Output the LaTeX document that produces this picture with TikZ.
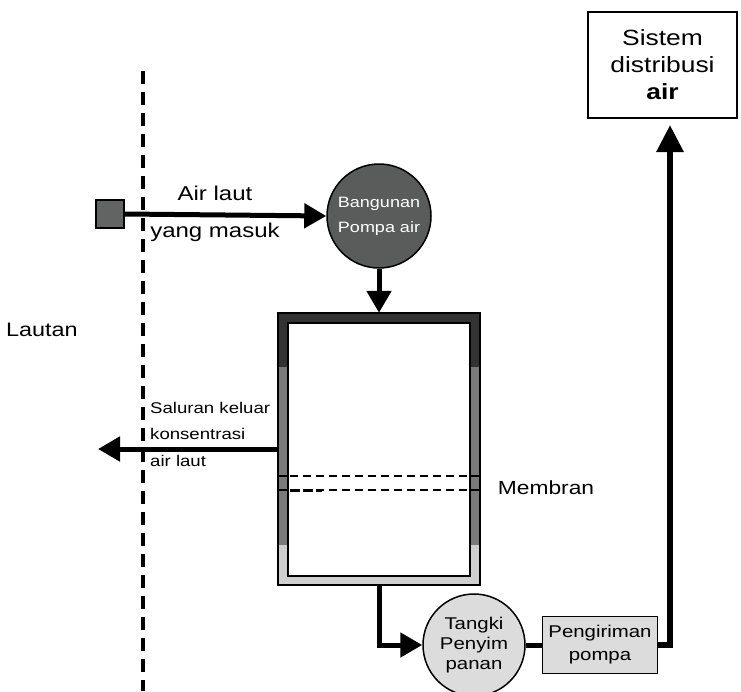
\documentclass[tikz,border=0pt]{standalone}
\usepackage{fontspec}
\setmainfont[FakeStretch=1.2]{Liberation Sans}
\usetikzlibrary{arrows.meta,calc}
\definecolor{walldark}{HTML}{333333}
\definecolor{wallmid}{HTML}{7A7A7A}
\definecolor{walllight}{HTML}{CFCFCF}
\definecolor{pumpgray}{HTML}{595C5B}
\definecolor{lightbox}{HTML}{DCDCDC}
\tikzset{
  arr/.style={line width=5pt,-{Triangle[length=22pt,width=24pt]}},
  conn/.style={line width=5pt},
  lbl/.style={inner sep=0pt,font=\fontsize{20}{27}\selectfont},
  smalllbl/.style={inner sep=0pt,font=\fontsize{15.5}{26.5}\selectfont,align=left},
  darkcirc/.style={circle,draw=black,line width=1.5pt,fill=pumpgray,minimum size=104pt,inner sep=0pt,text=white,align=center,font=\fontsize{15}{25}\selectfont},
  lightcirc/.style={circle,draw=black,line width=1.5pt,fill=lightbox,minimum size=102pt,inner sep=0pt,align=center,font=\fontsize{17}{20}\selectfont},
  lightrect/.style={rectangle,draw=black,line width=1.2pt,fill=lightbox,minimum width=115pt,minimum height=57pt,inner sep=0pt,align=center,font=\fontsize{17}{23}\selectfont},
  whiterect/.style={rectangle,draw=black,line width=2pt,fill=white,minimum width=149pt,minimum height=106pt,inner sep=0pt,align=center,font=\fontsize{22}{27}\selectfont},
  membr/.style={line width=1.3pt,dash pattern=on 8pt off 5pt},
}
\begin{document}
\begin{tikzpicture}[x=1pt,y=-1pt]
\useasboundingbox (0,0) rectangle (741,691);
% coastline
\draw[line width=4pt,dash pattern=on 13pt off 8pt] (143,71) -- (143,691);
\node[lbl,font=\fontsize{19.5}{22}\selectfont,anchor=west] (lautan) at (6,330) {Lautan};
% inlet
\node[rectangle,draw=black,line width=1.2pt,fill=pumpgray!95,minimum size=28pt,inner sep=0pt] (inlet) at (110,214) {};
\node[darkcirc] (pump) at (379,216) {Bangunan\\Pompa air};
\draw[arr] (inlet.east) -- (pump.west);
\node[lbl] (airlaut) at (215,193) {Air laut};
\node[lbl] (masuk) at (215,232) {yang masuk};
% tank
\node[rectangle,minimum width=202pt,minimum height=272pt,inner sep=0pt] (tank) at (379,449) {};
\fill[walldark] (278,313) rectangle (480,367);
\fill[wallmid] (278,367) rectangle (480,545);
\fill[walllight] (278,545) rectangle (480,585);
\filldraw[fill=white,draw=black,line width=1.5pt] (288,323) rectangle (470,576);
\draw[line width=2pt] (tank.north west) rectangle (tank.south east);
\draw[line width=1.3pt] (278,476) -- (288,476) (470,476) -- (480,476);
\draw[line width=1.3pt] (278,490) -- (288,490) (470,490) -- (480,490);
\draw[membr] (290,476) -- (470,476);
\draw[membr] (290,490) -- (470,490);
\draw[line width=3pt,dash pattern=on 10pt off 3pt] (290,490) -- (322,490);
\node[lbl,font=\fontsize{19}{22}\selectfont] (membran) at (546,488) {Membran};
\draw[arr] (pump.south) -- (tank.north);
% outlet
\coordinate (outtip) at (98,449);
\draw[arr] (tank.west) -- (outtip);
\node[smalllbl,anchor=west] (saluran) at (150,434) {Saluran keluar\\konsentrasi\\air laut};
% storage and delivery
\node[lightcirc] (tangki) at (474,645) {Tangki\\Penyim\\panan};
\node[lightrect] (kirim) at (600,645) {Pengiriman\\pompa};
\draw[arr] (tank.south) |- (tangki.west);
\draw[conn] (tangki.east) -- (kirim.west);
\node[whiterect] (sistem) at (662.5,65) {Sistem\\distribusi\\\textbf{air}};
\coordinate (sisin) at (670,125);
\draw[line width=6pt,-{Triangle[length=27pt,width=26pt]}] (kirim.east) -| (sisin);
\end{tikzpicture}
\end{document}
